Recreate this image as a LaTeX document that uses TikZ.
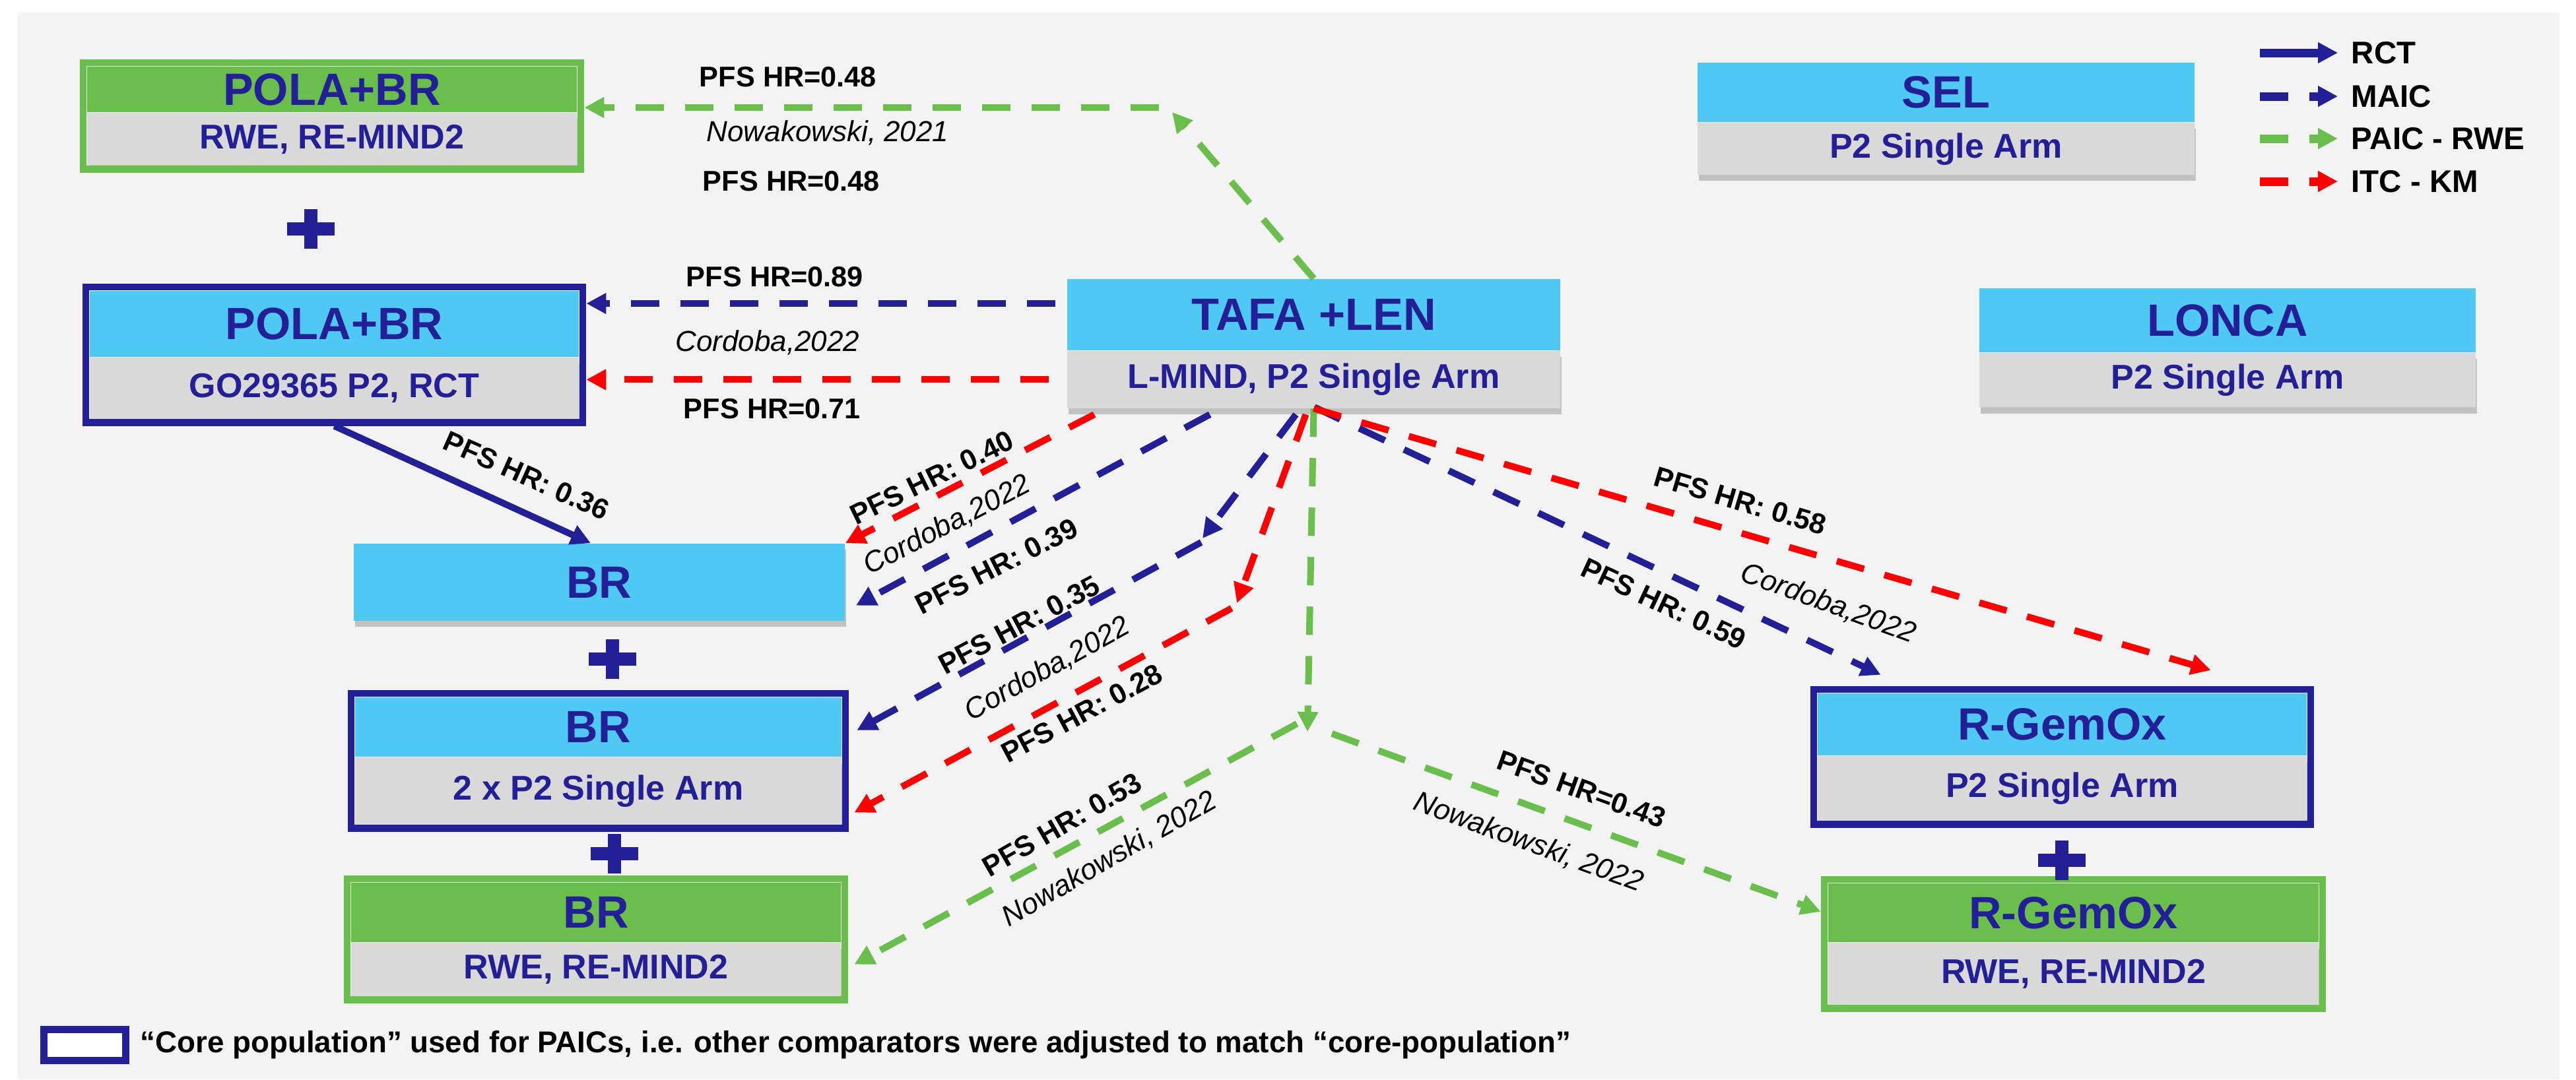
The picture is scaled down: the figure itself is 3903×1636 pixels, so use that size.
\documentclass[tikz,border=0pt]{standalone}
\usepackage{fontspec}
\setmainfont{Liberation Sans}
\usetikzlibrary{positioning,fit,calc,arrows.meta,shadows}

\definecolor{navy}{RGB}{35,31,150}
\definecolor{skyblue}{RGB}{79,200,243}
\definecolor{grassgreen}{RGB}{106,190,75}
\definecolor{subgray}{RGB}{217,217,217}
\definecolor{panelgray}{RGB}{243,243,243}
\definecolor{hrred}{RGB}{255,0,0}

\begin{document}
\begin{tikzpicture}[
    x=0.01cm, y=-0.01cm,
    shadowed/.style={drop shadow={shadow xshift=0.2mm, shadow yshift=-0.9mm, opacity=0.2, fill=black}},
    headbox/.style={inner sep=0pt, text=navy, font=\fontsize{19.5}{22}\selectfont\bfseries},
    subbox/.style={inner sep=0pt, fill=subgray, text=navy, shadowed,
        font=\fontsize{14.8}{17}\selectfont\bfseries},
    framebox/.style={draw=#1, line width=1.05mm, inner sep=0.52mm},
    link/.style={line width=1mm, -{Triangle[length=3mm, width=3mm]}},
    rctarrow/.style={link, navy},
    maicarrow/.style={link, navy, dash pattern=on 4.3mm off 3.2mm},
    paicarrow/.style={link, grassgreen, dash pattern=on 4.3mm off 3.2mm},
    itcarrow/.style={link, hrred, dash pattern=on 4.3mm off 3.2mm},
    hrlabel/.style={inner sep=0pt, font=\fontsize{12.3}{14}\selectfont\bfseries},
    citelabel/.style={inner sep=0pt, font=\fontsize{12.5}{14}\selectfont\itshape},
    legendlabel/.style={inner sep=0pt, anchor=west, font=\fontsize{13.5}{16}\selectfont\bfseries},
    plusmark/.style={navy, line width=2mm}
    ]

    \path[use as bounding box, fill=white] (0,0) rectangle (3903,1636);
    \fill[panelgray] (27,19) rectangle (3878,1636);

    % treatment boxes
    \node[headbox, fill=grassgreen, minimum width=7.42cm, minimum height=0.69cm] (polaRWE) at (503,135.5) {POLA+BR};
    \node[subbox, minimum width=7.42cm, minimum height=0.79cm, below=0pt of polaRWE] (polaRWEsub) {RWE, RE-MIND2};
    \node[framebox=grassgreen, fit=(polaRWE)(polaRWEsub)] (polaRWEbox) {};

    \node[headbox, fill=skyblue, minimum width=7.41cm, minimum height=1.0cm] (polaRCT) at (506.5,491) {POLA+BR};
    \node[subbox, minimum width=7.41cm, minimum height=0.92cm, below=0pt of polaRCT] (polaRCTsub) {GO29365 P2, RCT};
    \node[framebox=navy, fit=(polaRCT)(polaRCTsub)] (polaRCTbox) {};

    \node[headbox, fill=skyblue, minimum width=7.47cm, minimum height=1.08cm] (tafa) at (1990.5,477) {TAFA +LEN};
    \node[subbox, minimum width=7.47cm, minimum height=0.86cm, below=0pt of tafa] (tafasub) {L-MIND, P2 Single Arm};

    \node[headbox, fill=skyblue, minimum width=7.53cm, minimum height=0.9cm] (sel) at (2948.5,140) {SEL};
    \node[subbox, minimum width=7.53cm, minimum height=0.79cm, below=0pt of sel] (selsub) {P2 Single Arm};

    \node[headbox, fill=skyblue, minimum width=7.52cm, minimum height=0.97cm] (lonca) at (3375,485.5) {LONCA};
    \node[subbox, minimum width=7.52cm, minimum height=0.82cm, below=0pt of lonca] (loncasub) {P2 Single Arm};

    \node[headbox, shadowed, fill=skyblue, minimum width=7.44cm, minimum height=1.17cm] (brTop) at (908,882.5) {BR};

    \node[headbox, fill=skyblue, minimum width=7.37cm, minimum height=0.9cm] (brMid) at (906.5,1102) {BR};
    \node[subbox, minimum width=7.37cm, minimum height=1.01cm, below=0pt of brMid] (brMidsub) {2 x P2 Single Arm};
    \node[framebox=navy, fit=(brMid)(brMidsub)] (brMidbox) {};

    \node[headbox, fill=grassgreen, minimum width=7.42cm, minimum height=0.9cm] (brRWE) at (903,1383) {BR};
    \node[subbox, minimum width=7.42cm, minimum height=0.8cm, below=0pt of brRWE] (brRWEsub) {RWE, RE-MIND2};
    \node[framebox=grassgreen, fit=(brRWE)(brRWEsub)] (brRWEbox) {};

    \node[headbox, fill=skyblue, minimum width=7.41cm, minimum height=0.94cm] (gemSA) at (3124.5,1098) {R-GemOx};
    \node[subbox, minimum width=7.41cm, minimum height=0.97cm, below=0pt of gemSA] (gemSAsub) {P2 Single Arm};
    \node[framebox=navy, fit=(gemSA)(gemSAsub)] (gemSAbox) {};

    \node[headbox, fill=grassgreen, minimum width=7.43cm, minimum height=0.89cm] (gemRWE) at (3141.5,1383.5) {R-GemOx};
    \node[subbox, minimum width=7.43cm, minimum height=0.93cm, below=0pt of gemRWE] (gemRWEsub) {RWE, RE-MIND2};
    \node[framebox=grassgreen, fit=(gemRWE)(gemRWEsub)] (gemRWEbox) {};

    \foreach \px/\py in {471/347, 928/999, 931/1294, 3124/1304}
        \draw[plusmark] (\px-36,\py) -- (\px+36,\py) (\px,\py-30) -- (\px,\py+30);

    % comparisons to the POLA+BR arms
    \coordinate (bendRWE) at (1776,170);
    \draw[paicarrow] (tafa.north) -- (bendRWE);
    \draw[paicarrow] ($(bendRWE)+(-20,-7)$) -- ($(bendRWE -| polaRWEbox.east)+(0,-7)$);
    \coordinate (maicRCT) at ($(tafa.west)+(-17,-17)$);
    \draw[maicarrow] (maicRCT) -- (maicRCT -| polaRCTbox.east);
    \coordinate (itcRCT) at ($(tafasub.west)+(-27,0)$);
    \draw[itcarrow] (itcRCT) -- (itcRCT -| polaRCTbox.east);
    \draw[rctarrow] (polaRCTbox.south) -- ($(brTop.north)+(-13,0)$);

    % comparisons to the BR arms
    \draw[itcarrow] ($(tafasub.south west)+(42,9)$) -- (brTop.north east);
    \draw[maicarrow] ($(tafasub.south west)+(217,9)$) -- ($(brTop.south east)+(16,-24)$);
    \coordinate (bendMAIC) at (1822,816);
    \draw[maicarrow] ($(tafasub.south)+(-27,9)$) -- (bendMAIC);
    \draw[maicarrow] ($(bendMAIC)+(-2,6)$) -- ($(brMidbox.north east)+(12,61)$);
    \coordinate (bendITC) at (1874,914);
    \draw[itcarrow] ($(tafasub.south)+(-12,9)$) -- (bendITC);
    \draw[itcarrow] ($(bendITC)+(-8,8)$) -- ($(brMidbox.south east)+(8,-29)$);
    \coordinate (bendPAIC) at (1981,1109);
    \draw[paicarrow] (tafasub.south) -- (bendPAIC);
    \draw[paicarrow] ($(bendPAIC)+(-16,-12)$) -- ($(brRWEbox.east)+(9,38)$);

    % comparisons to the R-GemOx arms
    \draw[paicarrow] ($(bendPAIC)+(37,3)$) -- ($(gemRWEbox.west)+(0,-49)$);
    \draw[maicarrow] ($(tafasub.south)+(1,-2)$) -- ($(gemSAbox.north west)+(107,-17)$);
    \draw[itcarrow] (tafasub.south) -- ($(gemSAbox.north west)+(607,-24)$);

    % hazard ratios and sources
    \node[hrlabel] (hrRWEa) at (1194,117) {PFS HR=0.48};
    \node[citelabel] (citeRWE) at (1254,201) {Nowakowski, 2021};
    \node[hrlabel] (hrRWEb) at (1199,275) {PFS HR=0.48};
    \node[hrlabel] (hrRCTmaic) at (1174,420) {PFS HR=0.89};
    \node[citelabel] (citeRCT) at (1163,519) {Cordoba,2022};
    \node[hrlabel] (hrRCTitc) at (1170,620) {PFS HR=0.71};
    \node[hrlabel, rotate=-24] (hrRCT) at (798,721) {PFS HR: 0.36};
    \node[hrlabel, rotate=26] (hrBRitc) at (1412,724) {PFS HR: 0.40};
    \node[citelabel, rotate=27.5] (citeBR) at (1435,796) {Cordoba,2022};
    \node[hrlabel, rotate=27] (hrBRmaic) at (1510,858) {PFS HR: 0.39};
    \node[hrlabel, rotate=28] (hrMidmaic) at (1544,947) {PFS HR: 0.35};
    \node[citelabel, rotate=29] (citeMid) at (1587,1014) {Cordoba,2022};
    \node[hrlabel, rotate=28] (hrMiditc) at (1639,1081) {PFS HR: 0.28};
    \node[hrlabel, rotate=30] (hrBRpaic) at (1609,1250) {PFS HR: 0.53};
    \node[citelabel, rotate=30] (citeBRpaic) at (1681,1302) {Nowakowski, 2022};
    \node[hrlabel, rotate=-16.5] (hrGemitc) at (2637,759) {PFS HR: 0.58};
    \node[citelabel, rotate=-20] (citeGem) at (2770,915) {Cordoba,2022};
    \node[hrlabel, rotate=-25] (hrGemmaic) at (2521,915) {PFS HR: 0.59};
    \node[hrlabel, rotate=-20] (hrGempaic) at (2396,1196) {PFS HR=0.43};
    \node[citelabel, rotate=-20] (citeGempaic) at (2316,1277) {Nowakowski, 2022};

    % legend
    \foreach \ly/\lstyle/\ltext/\lname in {80/rctarrow/RCT/rct, 146/maicarrow/MAIC/maic,
            210/paicarrow/PAIC - RWE/paic, 275/itcarrow/ITC - KM/itc} {
        \node[legendlabel] (leg\lname) at (3562,\ly) {\ltext};
        \coordinate (leg\lname start) at (3424,\ly);
        \draw[\lstyle, line width=1.3mm] (leg\lname start) -- ($(leg\lname.west)+(-20,0)$);
    }
    \node[draw=navy, line width=1.1mm, fill=white, inner sep=0pt,
        minimum width=1.24cm, minimum height=0.47cm] (coreKey) at (128.5,1584) {};
    \node[inner sep=0pt, right=1.6mm of coreKey, font=\fontsize{13}{15}\selectfont\bfseries] (coreNote)
        {“Core population” used for PAICs, i.e. other comparators were adjusted to match “core-population”};

\end{tikzpicture}
\end{document}
